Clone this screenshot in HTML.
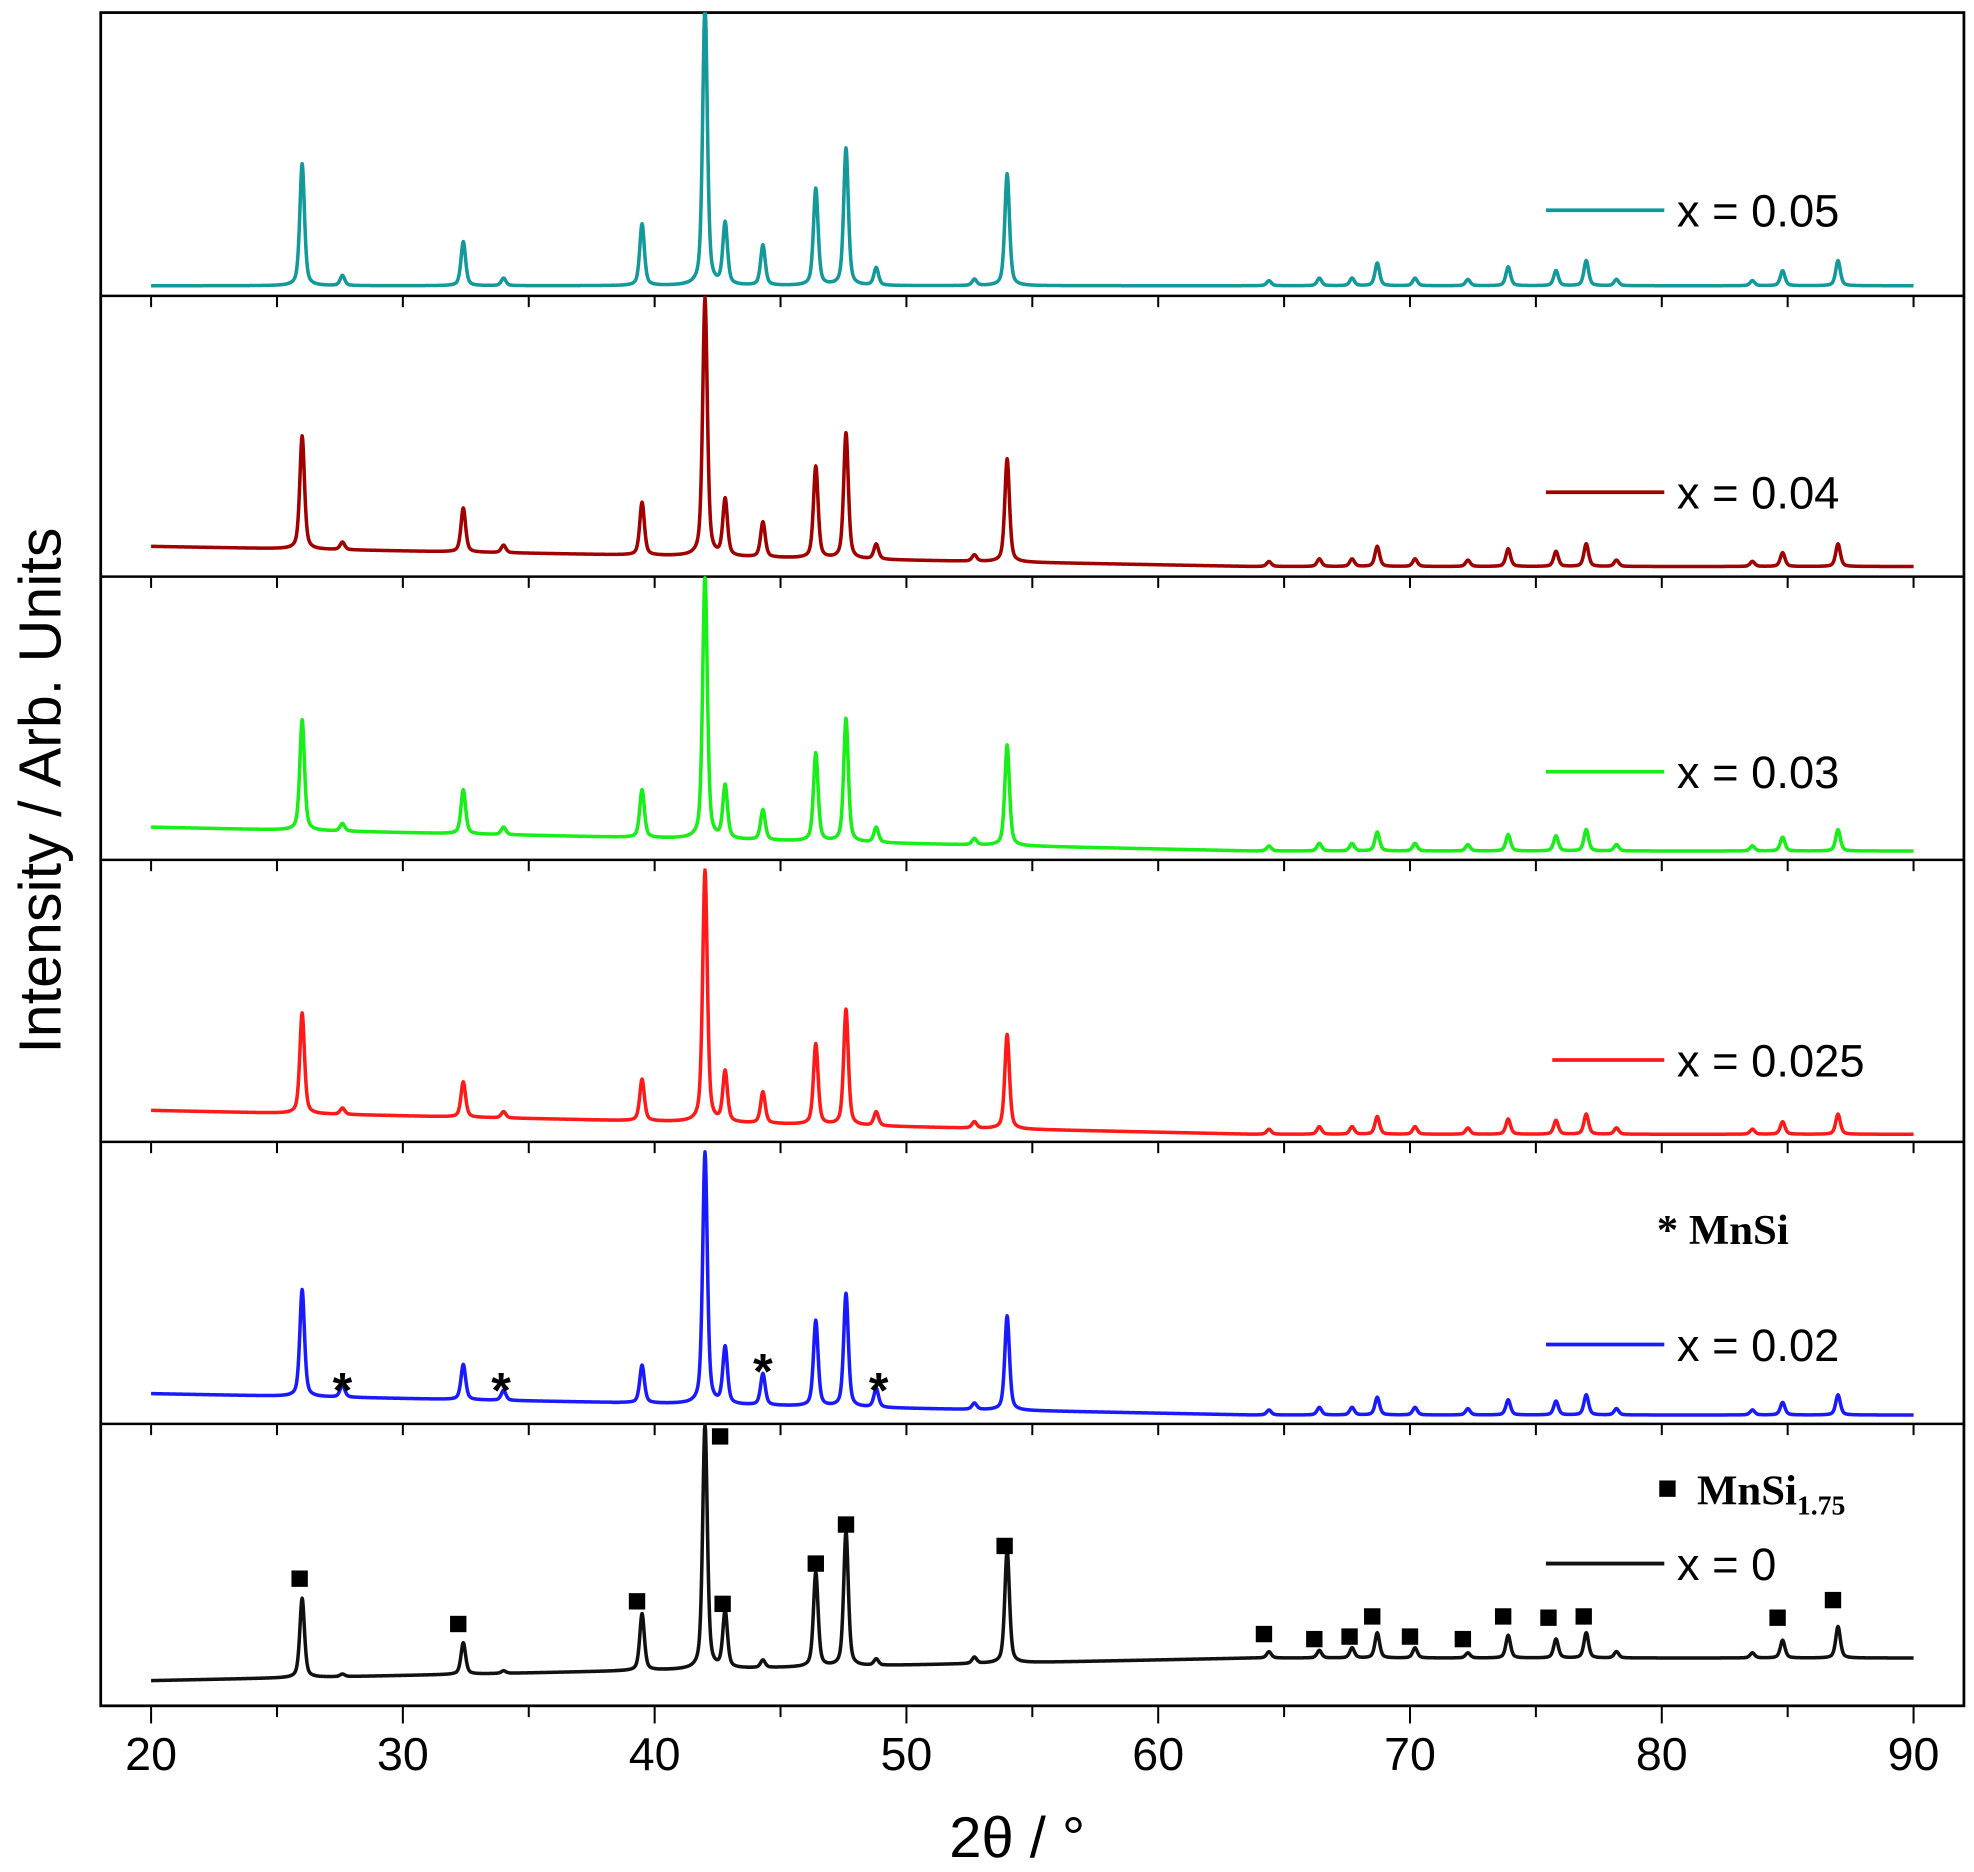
<!DOCTYPE html>
<html><head><meta charset="utf-8"><style>
html,body{margin:0;padding:0;background:#fff;}
svg{display:block;}
</style></head><body>
<svg id="chart" width="1974" height="1872" viewBox="0 0 1568 1487" xmlns="http://www.w3.org/2000/svg">
<rect width="1568" height="1487" fill="#fff"/>
<g id="frame"></g>
<g id="series"></g>
<g id="ticks"></g>
<g id="legend"></g>
<g id="markers"></g>
<text x="808" y="1475" text-anchor="middle" font-family="Liberation Sans, sans-serif" font-size="46">2θ / °</text>
<text transform="translate(48,628) rotate(-90)" text-anchor="middle" font-family="Liberation Sans, sans-serif" font-size="47">Intensity / Arb. Units</text>
<text x="1316" y="988" font-family="Liberation Serif, serif" font-weight="bold" font-size="34">* MnSi</text>
<text x="1348" y="1195" font-family="Liberation Serif, serif" font-weight="bold" font-size="34">MnSi<tspan font-size="22" dy="8">1.75</tspan></text>
<rect x="1318" y="1176" width="13" height="13" fill="#000"/>
</svg>
<script>
const xTicks = [20,30,40,50,60,70,80,90];
const peakPos = [26.0,27.6,32.4,34.0,39.5,42.0,42.8,44.3,46.4,47.6,48.8,52.7,54.0,64.4,66.4,67.7,68.7,70.2,72.3,73.9,75.8,77.0,78.2,83.6,84.8,87.0];
const labels = ["x = 0.05","x = 0.04","x = 0.03","x = 0.025","x = 0.02","x = 0"];
const colors = ["#13999a","#a00000","#18ee18","#ff1a1a","#1a1aff","#111111"];
const h005  = [97,8,35,6,49,225,49,32,77,109,14,5,89,4,6,6,18,6,5,15,12,20,5,4,12,20];
const h004  = [90,6,35,6,42,205,45,28,73,100,12,5,82,4,6,6,16,6,5,14,12,18,5,4,11,18];
const h003  = [88,6,35,6,38,211,42,24,70,98,12,5,80,4,6,6,15,6,5,13,12,17,5,4,11,17];
const h0025 = [80,5,28,5,33,200,40,25,64,92,11,5,75,4,6,6,14,6,5,12,11,16,5,4,10,16];
const h002  = [85,10,28,8,30,200,45,25,68,90,15,5,75,4,6,6,14,6,5,12,11,16,5,4,10,16];
const h000  = [63,2,25,2,45,195,45,6,75,107,5,5,90,5,6,8,20,8,4,18,15,20,5,4,14,25];
const heights = [h005,h004,h003,h0025,h002,h000];
const baseStart = [227,434,657,882,1107,1335];
const baseEnd   = [227,450,676,901,1124,1317];
const panelTops = [10,235,458,683,907,1131,1355];
const legendY = [167,391,613,842,1068,1242];
const asterisks = [27.6,33.9,44.3,48.9];
const asteriskY = [1098,1098,1083,1098];
const squares = [25.9,32.2,39.3,42.6,42.7,46.4,47.6,53.9,64.2,66.2,67.6,68.5,70.0,72.1,73.7,75.5,76.9,84.6,86.8];
const squareY = [1254,1290,1272,1141,1274,1242,1211,1228,1298,1302,1300,1284,1300,1302,1284,1285,1284,1285,1271];

const NS="http://www.w3.org/2000/svg";
const X = v => 120 + (v-20)*20;
function mk(tag, attrs, parent){const e=document.createElementNS(NS,tag);for(const k in attrs)e.setAttribute(k,attrs[k]);parent.appendChild(e);return e;}
const frame=document.getElementById('frame'), ser=document.getElementById('series'), tk=document.getElementById('ticks'), lg=document.getElementById('legend'), mkG=document.getElementById('markers');

let r=mk('rect',{x:80,y:10,width:1480,height:1345,fill:'none',stroke:'#000','stroke-width':2.2},frame);


for(let i=1;i<6;i++){
  let l=mk('line',{x1:80,x2:1560,y1:panelTops[i],y2:panelTops[i],stroke:'#000','stroke-width':2},frame);
  
  
}
for(let i=1;i<7;i++){
  for(let v=20;v<=90;v+=5){
    const major=v%10===0;
    const y=panelTops[i];
    const len = i===6 ? (major?14:9) : 9;
    let t=mk('line',{x1:X(v),x2:X(v),y1:y,y2:y+len,stroke:'#000','stroke-width':1.6},tk);
    
    
  }
}
xTicks.forEach(v=>{
  let t=mk('text',{x:X(v),y:1406,'text-anchor':'middle','font-family':'Liberation Sans, sans-serif','font-size':37},tk);
  t.textContent=v;
  
  
});
const w=0.11;
heights.forEach((hs,si)=>{
  let d='';
  for(let v=20;v<=90.0001;v+=0.02){
    const f=(v-20)/70;
    let y=baseStart[si]+(baseEnd[si]-baseStart[si])*Math.min(1,f*1.6);
    for(let k=0;k<peakPos.length;k++){const dx=(v-peakPos[k])/w;y-=hs[k]*(0.5/(1+dx*dx)+0.5*Math.exp(-0.693*dx*dx));}
    y=Math.max(y,panelTops[si]+1);
    d+=(d?'L':'M')+X(v).toFixed(1)+','+y.toFixed(1);
  }
  let p=mk('path',{d:d,fill:'none',stroke:colors[si],'stroke-width':2.8,'stroke-linejoin':'round'},ser);
  
  
  let lx = si===3?1233:1228;
  let l=mk('line',{x1:lx,x2:1322,y1:legendY[si],y2:legendY[si],stroke:colors[si],'stroke-width':3},lg);
  
  
  let t=mk('text',{x:1332,y:legendY[si]+13,'font-family':'Liberation Sans, sans-serif','font-size':36},lg);
  t.textContent=labels[si];
  
  
});
asterisks.forEach((v,i)=>{
  let t=mk('text',{x:X(v),y:asteriskY[i]+20,'text-anchor':'middle','font-family':'Liberation Sans, sans-serif','font-weight':'bold','font-size':40},mkG);
  t.textContent='*';
  
  
});
squares.forEach((v,i)=>{
  let s=mk('rect',{x:X(v)-6.5,y:squareY[i]-6.5,width:13,height:13,fill:'#000'},mkG);
  
  
});
</script>
</body></html>
